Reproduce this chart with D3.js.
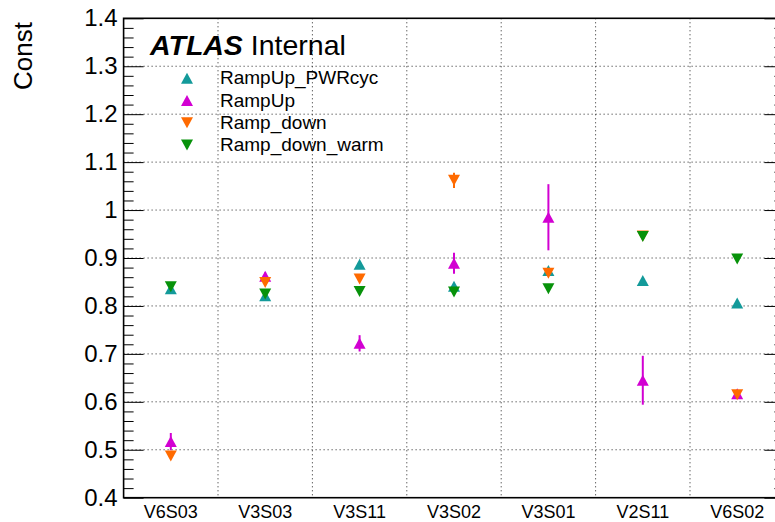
<!DOCTYPE html>
<html>
<head>
<meta charset="utf-8">
<script src="https://cdn.jsdelivr.net/npm/d3@7"></script>
<style>
  body { margin: 0; background: #fff; }
  svg { display: block; font-family: "Liberation Sans", Arial, Helvetica, sans-serif; }
</style>
</head>
<body>
<div id="chart"></div>
<script>
// categories (x bins)
const categories = ['V6S03', 'V3S03', 'V3S11', 'V3S02', 'V3S01', 'V2S11', 'V6S02'];

// series values + errors
const rampUpPwrcyc = [0.836, 0.821, 0.887, 0.841, 0.874, 0.853, 0.806];
const rampUpPwrcycErr = [0.004, 0.004, 0.005, 0.004, 0.005, 0.004, 0.004];
const rampUp = [0.517, 0.862, 0.722, 0.889, 0.985, 0.645, 0.617];
const rampUpErr = [0.018, 0.008, 0.017, 0.022, 0.069, 0.051, 0.008];
const rampDown = [0.487, 0.849, 0.856, 1.062, 0.868, 0.946, 0.615];
const rampDownErr = [0.005, 0.005, 0.005, 0.016, 0.005, 0.005, 0.005];
const rampDownWarm = [0.840, 0.825, 0.830, 0.829, 0.836, 0.945, 0.898];
const rampDownWarmErr = [0.004, 0.004, 0.004, 0.004, 0.004, 0.004, 0.004];

const yTicks = [0.4, 0.5, 0.6, 0.7, 0.8, 0.9, 1, 1.1, 1.2, 1.3, 1.4];

const series = [
  { name: 'RampUp_PWRcyc', values: rampUpPwrcyc, errs: rampUpPwrcycErr, color: '#139a9a', up: true },
  { name: 'RampUp', values: rampUp, errs: rampUpErr, color: '#d200d2', up: true },
  { name: 'Ramp_down', values: rampDown, errs: rampDownErr, color: '#ff6a00', up: false },
  { name: 'Ramp_down_warm', values: rampDownWarm, errs: rampDownWarmErr, color: '#07920a', up: false }
];

const width = 775, height = 522;
const frame = { left: 123.6, right: 784.4, top: 18.3, bottom: 497.7 };

const svg = d3.select('#chart').append('svg')
  .attr('width', width)
  .attr('height', height);

const x = d3.scaleBand()
  .domain(categories)
  .range([frame.left, frame.right])
  .padding(0);

const y = d3.scaleLinear()
  .domain([0.4, 1.4])
  .range([frame.bottom, frame.top]);

// triangle marker path, centred on its box
function tri(up, w = 12, h = 11) {
  const p = d3.path();
  const s = up ? 1 : -1;
  p.moveTo(0, -s * h / 2);
  p.lineTo(w / 2, s * h / 2);
  p.lineTo(-w / 2, s * h / 2);
  p.closePath();
  return p.toString();
}

// grid
const grid = svg.append('g')
  .attr('stroke', '#222')
  .attr('stroke-width', 1)
  .attr('stroke-dasharray', '1,3');

grid.selectAll('line.h')
  .data(yTicks.slice(1, -1))
  .join('line')
  .attr('class', 'h')
  .attr('x1', frame.left).attr('x2', frame.right)
  .attr('y1', d => y(d)).attr('y2', d => y(d));

grid.selectAll('line.v')
  .data(categories.slice(1))
  .join('line')
  .attr('class', 'v')
  .attr('x1', d => x(d)).attr('x2', d => x(d))
  .attr('y1', frame.top).attr('y2', frame.bottom);

// minor ticks (both sides)
const minor = d3.range(0.4, 1.4001, 0.02).filter(v => Math.abs(v * 10 - Math.round(v * 10)) > 1e-6);

const yAxisL = d3.axisLeft(y)
  .tickValues(yTicks)
  .tickFormat(d3.format('~g'))
  .tickSizeInner(-20)
  .tickSizeOuter(0)
  .tickPadding(6);

const gL = svg.append('g')
  .attr('transform', `translate(${frame.left},0)`)
  .call(yAxisL);
gL.select('.domain').remove();
gL.selectAll('text')
  .attr('font-size', 24)
  .attr('fill', '#000')
  .attr('font-family', '"Liberation Sans", Arial, Helvetica, sans-serif');

svg.append('g')
  .attr('transform', `translate(${frame.left},0)`)
  .call(d3.axisLeft(y).tickValues(minor).tickSizeInner(-10).tickSizeOuter(0).tickFormat(''))
  .select('.domain').remove();

const gR = svg.append('g')
  .attr('transform', `translate(${frame.right},0)`)
  .call(d3.axisRight(y).tickValues(yTicks).tickSizeInner(-20).tickSizeOuter(0).tickFormat(''));
gR.select('.domain').remove();

svg.append('g')
  .attr('transform', `translate(${frame.right},0)`)
  .call(d3.axisRight(y).tickValues(minor).tickSizeInner(-10).tickSizeOuter(0).tickFormat(''))
  .select('.domain').remove();

// x labels
const xAxis = d3.axisBottom(x).tickSize(0).tickPadding(0);
const gX = svg.append('g')
  .attr('transform', `translate(0,${frame.bottom})`)
  .call(xAxis);
gX.select('.domain').remove();
gX.selectAll('text')
  .attr('font-size', 18)
  .attr('fill', '#000')
  .attr('dy', null)
  .attr('y', 20.5)
  .attr('font-family', '"Liberation Sans", Arial, Helvetica, sans-serif');

// frame
svg.append('rect')
  .attr('x', frame.left)
  .attr('y', frame.top)
  .attr('width', frame.right - frame.left)
  .attr('height', frame.bottom - frame.top)
  .attr('fill', 'none')
  .attr('stroke', '#000')
  .attr('stroke-width', 1.6);

// y title
svg.append('text')
  .attr('transform', 'translate(32,22) rotate(-90)')
  .attr('text-anchor', 'end')
  .attr('font-size', 26)
  .text('Const');

// points with error bars
const cx = d => x(d) + x.bandwidth() / 2;

series.forEach(s => {
  const g = svg.append('g');
  const pts = categories.map((c, i) => ({ c, v: s.values[i], e: s.errs[i] }));

  g.selectAll('line')
    .data(pts)
    .join('line')
    .attr('x1', d => cx(d.c)).attr('x2', d => cx(d.c))
    .attr('y1', d => y(d.v - d.e)).attr('y2', d => y(d.v + d.e))
    .attr('stroke', s.color)
    .attr('stroke-width', 2);

  g.selectAll('path')
    .data(pts)
    .join('path')
    .attr('d', tri(s.up))
    .attr('transform', d => `translate(${cx(d.c)},${y(d.v)})`)
    .attr('fill', s.color);
});

// ATLAS label
const atlas = svg.append('text')
  .attr('x', 150)
  .attr('y', 55)
  .attr('font-size', 28.5);
atlas.append('tspan')
  .attr('font-weight', 'bold')
  .attr('font-style', 'italic')
  .text('ATLAS');
atlas.append('tspan').text(' Internal');

// legend
const legend = svg.append('g');
const legY = d3.scalePoint().domain(series.map(s => s.name)).range([78.3, 145]);

legend.selectAll('path')
  .data(series)
  .join('path')
  .attr('d', d => tri(d.up))
  .attr('transform', d => `translate(187,${legY(d.name)})`)
  .attr('fill', d => d.color);

legend.selectAll('text')
  .data(series)
  .join('text')
  .attr('x', 220)
  .attr('y', d => legY(d.name) + 6)
  .attr('font-size', 19)
  .text(d => d.name);
</script>
</body>
</html>
